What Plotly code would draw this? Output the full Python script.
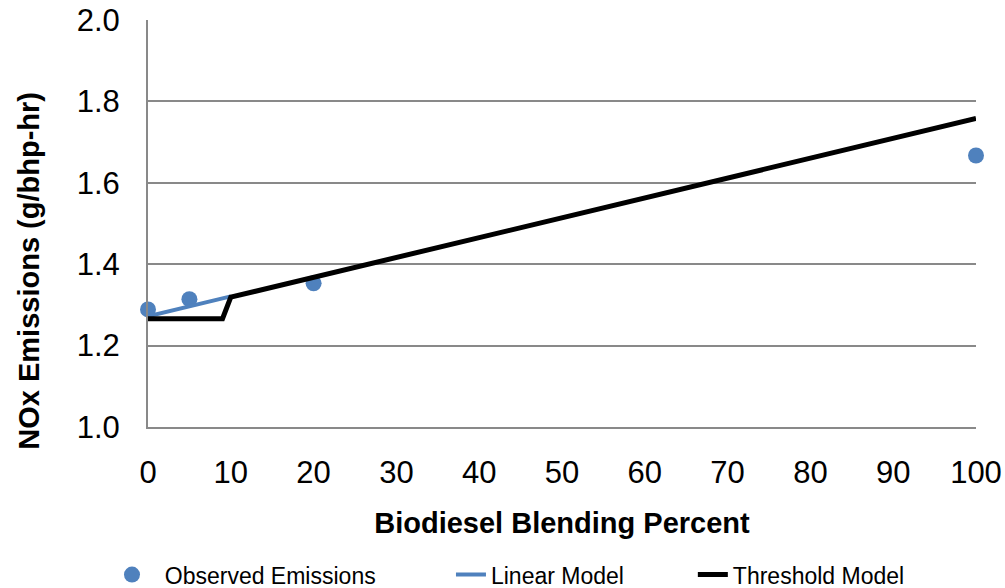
import plotly.graph_objects as go

# observed emissions
obs_x = [0, 5, 20, 100]
obs_y = [1.289, 1.314, 1.353, 1.667]

# linear model (only drawn up to 10 %)
lin_x = [0, 10]
lin_y = [1.272, 1.321]

# threshold model
thr_x = [0, 9, 10, 100]
thr_y = [1.266, 1.266, 1.319, 1.758]

x_ticks = list(range(0, 101, 10))
y_ticks = [1.0, 1.2, 1.4, 1.6, 1.8, 2.0]

BLUE = "#4F81BD"
GRID = "#898989"
FONT = "Liberation Sans, Arial, sans-serif"
NB = "\u00a0"

fig = go.Figure()

# padding with non-breaking spaces to mimic the wider Excel legend spacing
fig.add_trace(go.Scatter(
    x=obs_x, y=obs_y, mode="markers", name=NB * 2 + "Observed Emissions" + NB * 11,
    marker=dict(color=BLUE, size=16),
    cliponaxis=False
))
fig.add_trace(go.Scatter(
    x=lin_x, y=lin_y, mode="lines", name="Linear Model" + NB * 10,
    line=dict(color=BLUE, width=4),
    cliponaxis=False
))
fig.add_trace(go.Scatter(
    x=thr_x, y=thr_y, mode="lines", name="Threshold Model",
    line=dict(color="black", width=5),
    cliponaxis=False
))

fig.update_xaxes(
    range=[0, 100], tickvals=x_ticks,
    showgrid=False, zeroline=False, automargin=False,
    showline=True, linecolor=GRID, linewidth=2,
    ticks="outside", ticklen=17, tickcolor="rgba(0,0,0,0)",
    tickfont=dict(family=FONT, size=31, color="black"),
    title=dict(text="<b>Biodiesel Blending Percent</b>", standoff=23,
               font=dict(family=FONT, size=29, color="black"))
)
fig.update_yaxes(
    range=[1.0, 2.0], tickvals=y_ticks, tickformat=".1f",
    showgrid=True, gridcolor=GRID, gridwidth=2, zeroline=False, automargin=False,
    showline=True, linecolor=GRID, linewidth=2,
    ticks="outside", ticklen=20, tickcolor="rgba(0,0,0,0)",
    tickfont=dict(family=FONT, size=31, color="black")
)

# y title placed by hand: in the original it sits lower than the plot centre
fig.add_annotation(
    text="<b>NOx Emissions (g/bhp-hr)</b>", textangle=-90,
    xref="paper", yref="paper", x=-0.143, y=0.383,
    xanchor="center", yanchor="middle", showarrow=False,
    font=dict(family=FONT, size=29, color="black")
)

fig.update_layout(
    width=1005, height=588,
    margin=dict(l=148, r=29, t=20, b=161, autoexpand=False),
    plot_bgcolor="white", paper_bgcolor="white",
    font=dict(family=FONT, color="black"),
    legend=dict(
        orientation="h", x=-0.0435, xanchor="left", y=-0.31, yanchor="top",
        font=dict(family=FONT, size=23, color="black"),
        itemwidth=30, traceorder="normal"
    )
)

fig.write_html("out.html", config={"displayModeBar": False},
               post_script="document.body.style.margin='0';")
